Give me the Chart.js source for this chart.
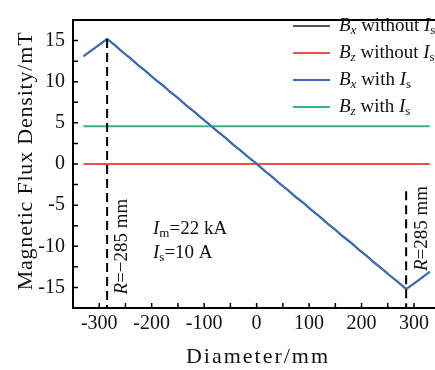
<!DOCTYPE html>
<html>
<head>
<meta charset="utf-8">
<script src="https://cdn.jsdelivr.net/npm/chart.js@4.4.0/dist/chart.umd.min.js"></script>
<style>
  html, body { margin: 0; padding: 0; background: #fff; }
  canvas { display: block; }
</style>
</head>
<body>
<canvas id="chart" width="435" height="370"></canvas>
<script>
// diameter positions (mm) for the Bx curves
const diameter = [-330, -315, -300, -285, -270, -255, -240, -225, -210, -195, -180, -165, -150, -135, -120, -105,
  -90, -75, -60, -45, -30, -15, 0, 15, 30, 45, 60, 75, 90, 105, 120, 135, 150, 165, 180, 195, 210, 225, 240,
  255, 270, 285, 300, 315, 330];
const bxWithIs = [13.1, 13.8, 14.5, 15.2, 14.42, 13.57, 12.83, 11.98, 11.22, 10.37, 9.62, 8.78, 8.03, 7.17, 6.42, 5.58,
  4.81, 3.97, 3.22, 2.38, 1.62, 0.78, 0.02, -0.83, -1.58, -2.42, -3.18, -4.03, -4.78, -5.62, -6.38, -7.22, -7.98,
  -8.83, -9.58, -10.42, -11.18, -12.02, -12.78, -13.62, -14.38, -15.2, -14.52, -13.82, -13.1];
const bxWithoutIs = [13.1, 13.8, 14.5, 15.2, 14.42, 13.57, 12.83, 11.98, 11.22, 10.37, 9.62, 8.78, 8.03, 7.17, 6.42, 5.58,
  4.81, 3.97, 3.22, 2.38, 1.62, 0.78, 0.02, -0.83, -1.58, -2.42, -3.18, -4.03, -4.78, -5.62, -6.38, -7.22, -7.98,
  -8.83, -9.58, -10.42, -11.18, -12.02, -12.78, -13.62, -14.38, -15.2, -14.52, -13.82, -13.1];
const flatX = [-330, 330];
const bzWithoutIs = [0, 0];
const bzWithIs = [4.6, 4.6];

const xTicks = [-300, -200, -100, 0, 100, 200, 300];
const yTicks = [-15, -10, -5, 0, 5, 10, 15];

// dashed markers at R = ±285 mm
const markerX = [-285, 285];
const markerTop = [15.2, -3.3];

const zip = (xs, ys) => xs.map((x, i) => ({ x: x, y: ys[i] }));

const SERIF = '"Liberation Serif", "Times New Roman", serif';

function drawRich(ctx, parts, x, y) {
  // parts: [text, italic, subscript]
  let cx = x;
  for (const [t, it, sub] of parts) {
    const size = sub ? 13 : 19;
    ctx.font = (it ? 'italic ' : '') + size + 'px ' + SERIF;
    ctx.fillText(t, cx, y + (sub ? 5 : 0));
    cx += ctx.measureText(t).width;
  }
}

const decor = {
  id: 'decor',
  afterDatasetsDraw(chart) {
    const ctx = chart.ctx;
    const xs = chart.scales.x, ys = chart.scales.y;
    const a = chart.chartArea;
    ctx.save();
    ctx.strokeStyle = '#000';
    // top frame line
    ctx.lineWidth = 2;
    ctx.beginPath();
    ctx.moveTo(a.left - 1, a.top);
    ctx.lineTo(a.right, a.top);
    ctx.stroke();
    // inward tick marks every half step
    ctx.lineWidth = 1.5;
    ctx.beginPath();
    for (let v = -300; v <= 300; v += 50) {
      const px = xs.getPixelForValue(v);
      ctx.moveTo(px, a.bottom);
      ctx.lineTo(px, a.bottom - 5);
    }
    for (let v = -15; v <= 15; v += 2.5) {
      const py = ys.getPixelForValue(v);
      ctx.moveTo(a.left, py);
      ctx.lineTo(a.left + 5, py);
    }
    ctx.stroke();
    // dashed markers
    ctx.lineWidth = 2;
    ctx.setLineDash([9, 5]);
    ctx.beginPath();
    markerX.forEach((m, i) => {
      const px = xs.getPixelForValue(m);
      ctx.moveTo(px, ys.getPixelForValue(markerTop[i]));
      ctx.lineTo(px, a.bottom);
    });
    ctx.stroke();
    ctx.setLineDash([]);

    // legend
    ctx.fillStyle = '#111';
    ctx.textBaseline = 'middle';
    const legend = [
      [['B', true], ['x', true, true], [' without ', false], ['I', true], ['s', false, true]],
      [['B', true], ['z', true, true], [' without ', false], ['I', true], ['s', false, true]],
      [['B', true], ['x', true, true], [' with ', false], ['I', true], ['s', false, true]],
      [['B', true], ['z', true, true], [' with ', false], ['I', true], ['s', false, true]]
    ];
    legend.forEach((parts, i) => {
      const y = 26 + i * 27;
      ctx.strokeStyle = chart.data.datasets[i].borderColor;
      ctx.lineWidth = 2;
      ctx.beginPath();
      ctx.moveTo(293, y);
      ctx.lineTo(330, y);
      ctx.stroke();
      drawRich(ctx, parts, 339, y);
    });

    // annotations
    drawRich(ctx, [['I', true], ['m', false, true], ['=22 kA', false]], 153, 229);
    drawRich(ctx, [['I', true], ['s', false, true], ['=10 A', false]], 153, 253);

    ctx.save();
    ctx.translate(122, 246);
    ctx.rotate(-Math.PI / 2);
    ctx.font = '19px ' + SERIF;
    let w = ctx.measureText('R').width + ctx.measureText('=\u2212285 mm').width;
    drawRich(ctx, [['R', true], ['=\u2212285 mm', false]], -w / 2, 0);
    ctx.restore();

    ctx.save();
    ctx.translate(422, 228);
    ctx.rotate(-Math.PI / 2);
    ctx.font = '19px ' + SERIF;
    w = ctx.measureText('R').width + ctx.measureText('=285 mm').width;
    drawRich(ctx, [['R', true], ['=285 mm', false]], -w / 2, 0);
    ctx.restore();

    // axis titles
    ctx.fillStyle = '#111';
    ctx.textAlign = 'center';
    ctx.font = '22px ' + SERIF;
    ctx.letterSpacing = '2px';
    ctx.fillText('Diameter/mm', 258, 357);
    ctx.save();
    ctx.translate(26, 161);
    ctx.rotate(-Math.PI / 2);
    ctx.font = '22px ' + SERIF;
    ctx.letterSpacing = '0.8px';
    ctx.fillText('Magnetic Flux Density/mT', 0, 0);
    ctx.restore();
    ctx.letterSpacing = '0px';
    ctx.restore();
  }
};

const tickFont = { family: SERIF, size: 20 };

new Chart(document.getElementById('chart'), {
  type: 'line',
  data: {
    datasets: [
      { label: 'Bx without Is', data: zip(diameter, bxWithoutIs), borderColor: '#555555', order: 3 },
      { label: 'Bz without Is', data: zip(flatX, bzWithoutIs), borderColor: '#e8524a', order: 2 },
      { label: 'Bx with Is', data: zip(diameter, bxWithIs), borderColor: '#3b6cc4', order: 0 },
      { label: 'Bz with Is', data: zip(flatX, bzWithIs), borderColor: '#3cb37a', order: 1 }
    ]
  },
  options: {
    responsive: false,
    animation: false,
    devicePixelRatio: 1,
    layout: { padding: { top: 14, right: 0, left: 0, bottom: 0 } },
    elements: {
      point: { radius: 0 },
      line: { borderWidth: 2, tension: 0 }
    },
    plugins: { legend: { display: false }, tooltip: { enabled: false } },
    scales: {
      x: {
        type: 'linear',
        min: -350,
        max: 340,
        afterBuildTicks: s => { s.ticks = xTicks.map(v => ({ value: v })); },
        afterFit: s => { s.height = 62; },
        grid: { display: false, drawTicks: false },
        border: { color: '#000', width: 2 },
        ticks: { font: tickFont, color: '#111', padding: 4, maxRotation: 0 }
      },
      y: {
        min: -17.5,
        max: 17.5,
        afterBuildTicks: s => { s.ticks = yTicks.map(v => ({ value: v })); },
        afterFit: s => { s.width = 73; },
        grid: { display: false, drawTicks: false },
        border: { color: '#000', width: 2 },
        ticks: { font: tickFont, color: '#111', padding: 8 }
      }
    }
  },
  plugins: [decor]
});
</script>
</body>
</html>
